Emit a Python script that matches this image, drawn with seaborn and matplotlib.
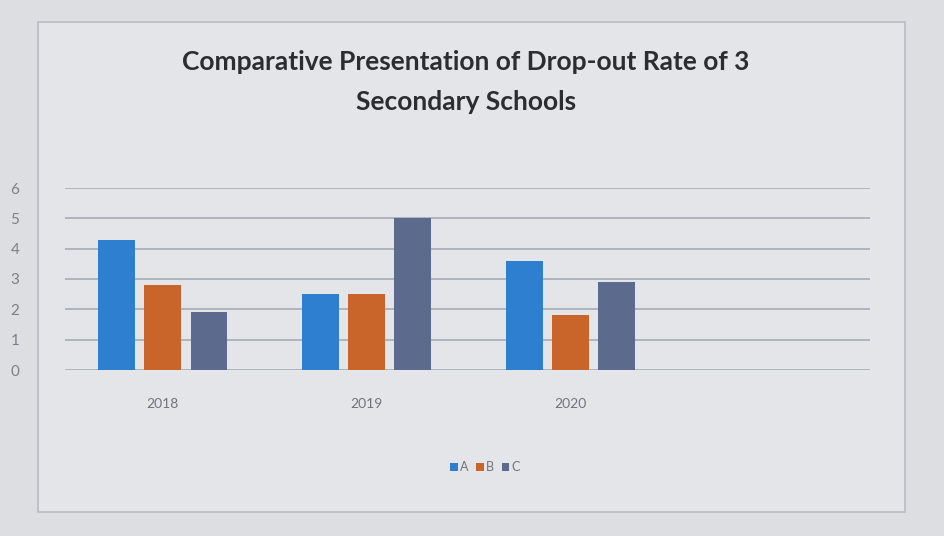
import matplotlib
matplotlib.use("Agg")
import matplotlib.pyplot as plt
import seaborn as sns
import pandas as pd
from matplotlib.patches import Rectangle

years = ["2018", "2019", "2020"]
schools = ["A", "B", "C"]
values_A = [4.3, 2.5, 3.6]
values_B = [2.8, 2.5, 1.8]
values_C = [1.9, 5.0, 2.9]
yticks = [0, 1, 2, 3, 4, 5, 6]
title = "Comparative Presentation of Drop-out Rate of 3\nSecondary Schools"

df = pd.DataFrame({
    "Year": years * 3,
    "School": ["A"] * 3 + ["B"] * 3 + ["C"] * 3,
    "Rate": values_A + values_B + values_C,
})

sns.set_theme(style="white")
plt.rcParams["font.family"] = ["Lato", "DejaVu Sans"]

bg = "#dcdee1"
fig = plt.figure(figsize=(9.45, 5.36), dpi=100, facecolor=bg)
fig.patches.append(Rectangle((38 / 945, 1 - 512 / 536), (905 - 38) / 945, (512 - 22) / 536,
                             transform=fig.transFigure, facecolor="#e3e5e8",
                             edgecolor="#b8bcc2", lw=1.2, zorder=-1))

ax = fig.add_axes([65 / 945, 1 - 370 / 536, (870 - 65) / 945, (370 - 188) / 536])
ax.set_facecolor("none")
palette = {"A": "#2f7fd1", "B": "#c9652b", "C": "#5b6a8d"}
sns.barplot(data=df, x="Year", y="Rate", hue="School", hue_order=schools,
            order=years, palette=palette, width=0.68, gap=0.2,
            saturation=1, ax=ax, legend=True, zorder=3, linewidth=0,
            edgecolor="none")

ax.set_ylim(0, 6)
ax.set_xlim(-0.48, 3.47)
ax.set_yticks(yticks)
ax.set_yticklabels([str(t) for t in yticks])
ax.yaxis.grid(True, color="#a9b0ba", lw=1.3, zorder=0)
for s in ax.spines.values():
    s.set_visible(False)
ax.tick_params(axis="y", length=0, pad=33, labelsize=11, labelcolor="#7b7f86")
ax.tick_params(axis="x", length=0, pad=20, labelsize=10, labelcolor="#6f747c")
ax.set_xlabel("")
ax.set_ylabel("")

leg = ax.legend(loc="center", bbox_to_anchor=(485 / 945, 1 - 467 / 536),
                bbox_transform=fig.transFigure, ncol=3, frameon=False,
                fontsize=9, handlelength=0.6, handleheight=0.6,
                handletextpad=0.2, columnspacing=0.6)
for t in leg.get_texts():
    t.set_color("#6f747c")

fig.text(466 / 945, 1 - 82 / 536, title, ha="center", va="center",
         fontsize=19, fontweight="bold", color="#2b2d31", linespacing=1.8)

fig.savefig("out.png", dpi=100, facecolor=bg)
